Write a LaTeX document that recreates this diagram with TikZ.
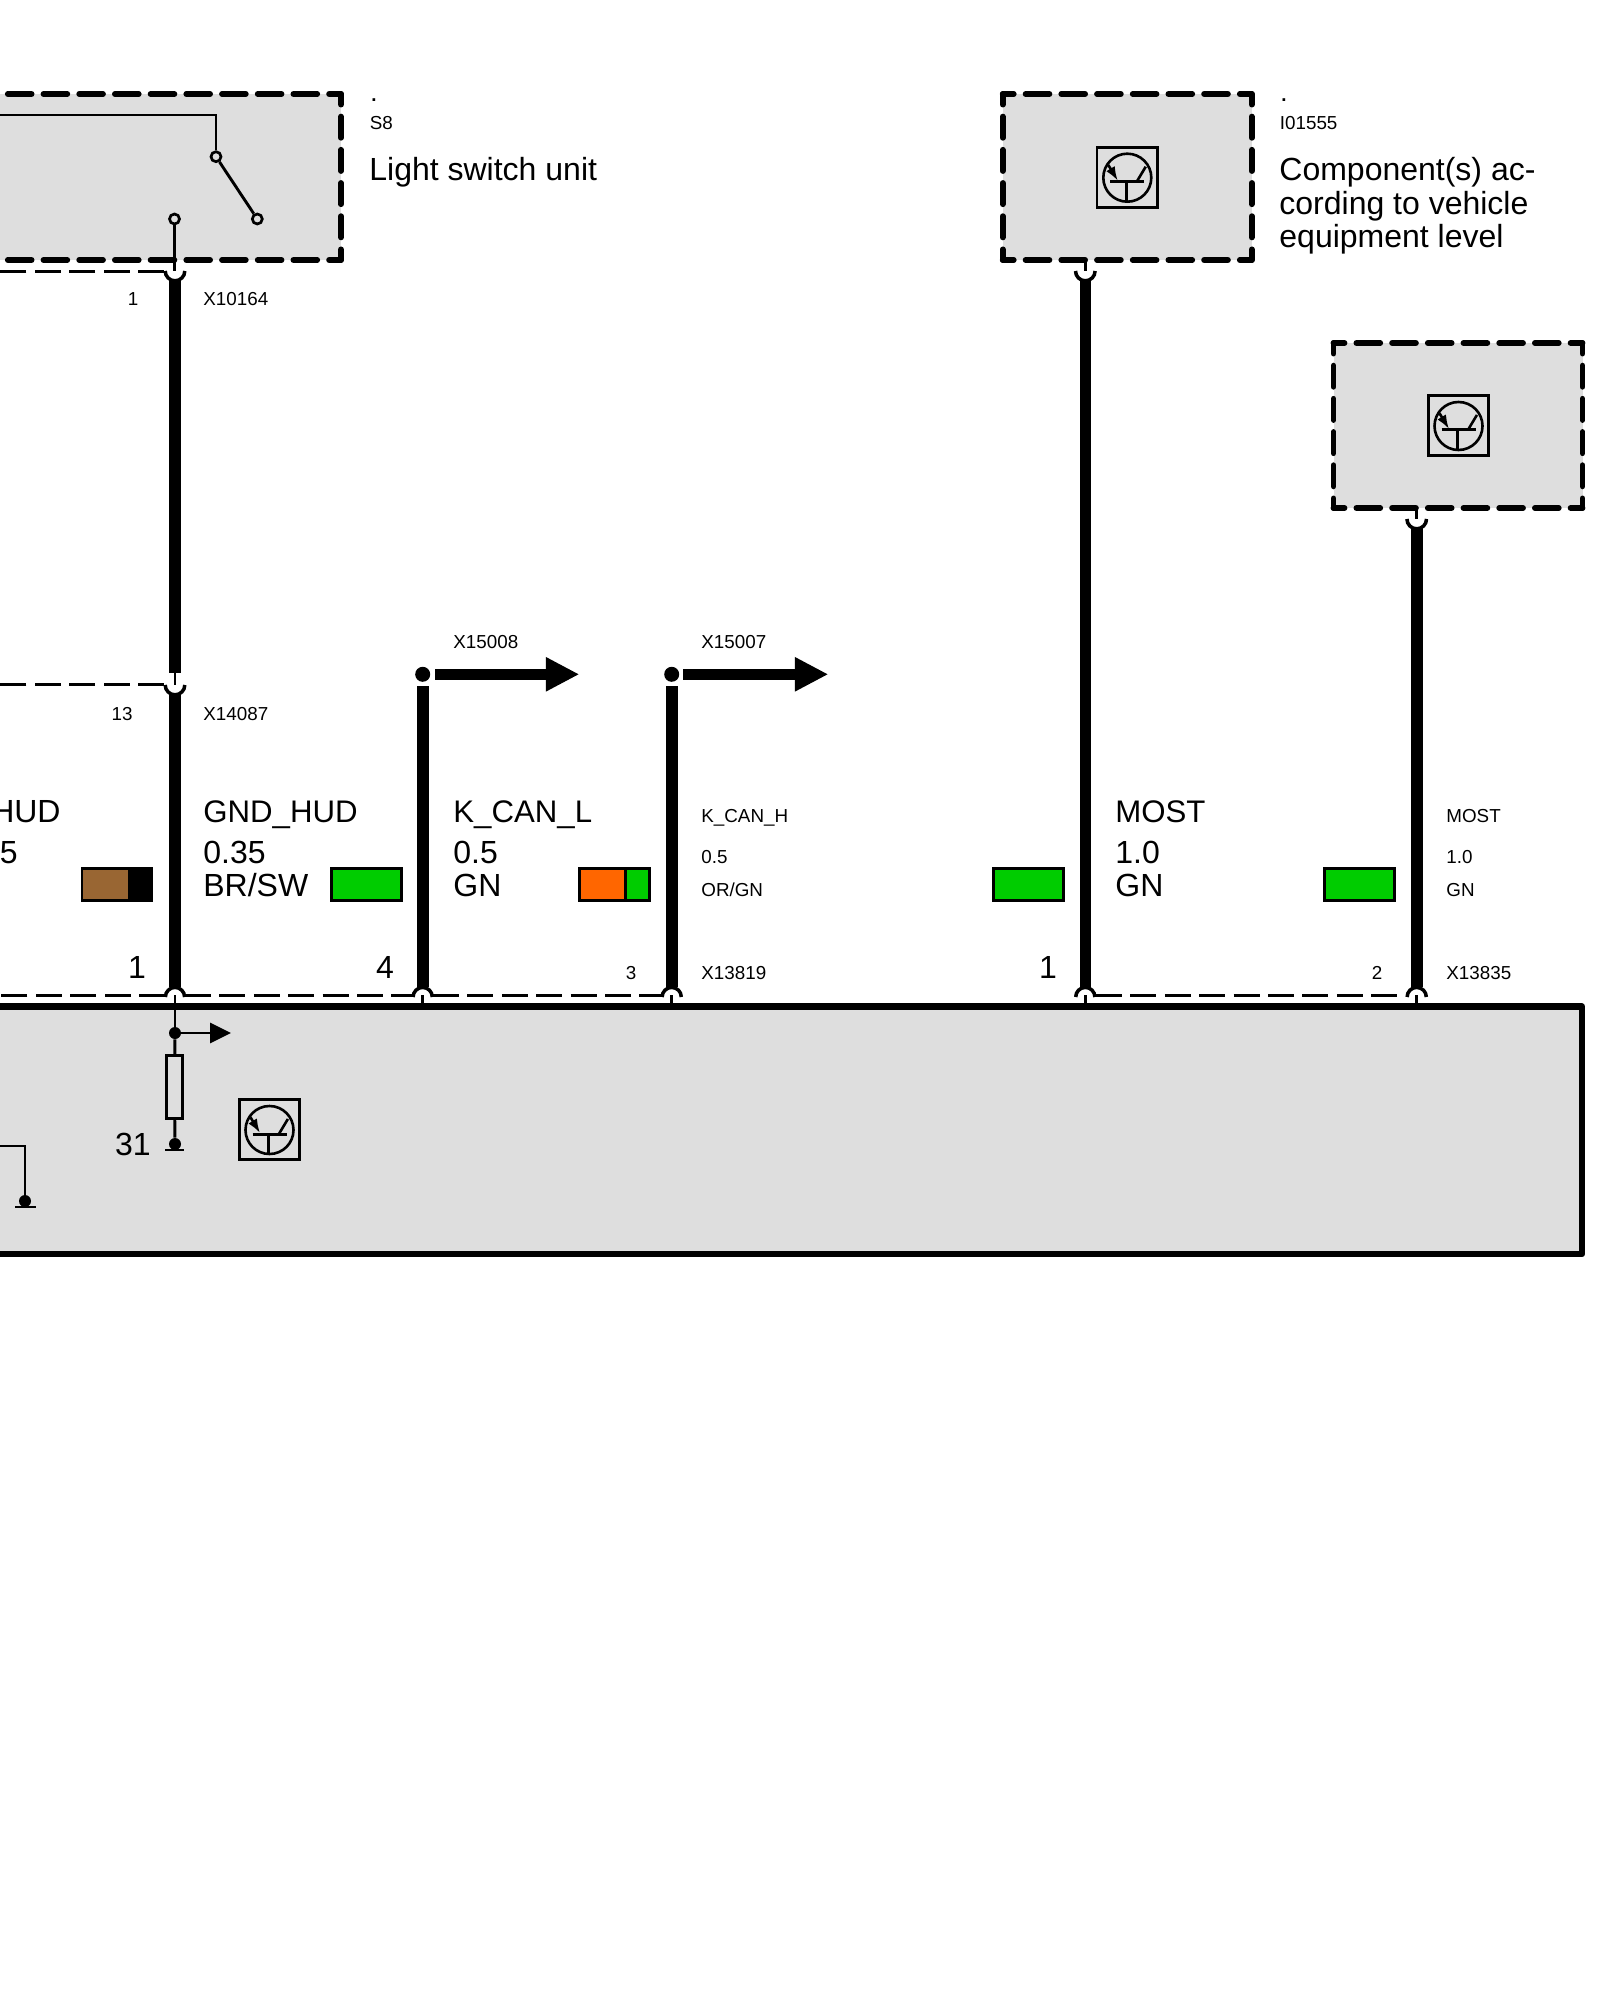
\documentclass[tikz,border=0pt]{standalone}
\usepackage{fontspec}
\setmainfont{Liberation Sans}
\usepackage{tikz}
\usetikzlibrary{calc,positioning,arrows.meta}
\definecolor{boxgray}{HTML}{DEDEDE}
\definecolor{wiregreen}{HTML}{00CC00}
\definecolor{wirebrown}{HTML}{996633}
\definecolor{wireorange}{HTML}{FF6600}
\tikzset{
	bigtext/.style={anchor=base west, inner sep=0pt, font=\fontsize{16}{16}\selectfont},
	sigtext/.style={anchor=base west, inner sep=0pt, font=\fontsize{15.6}{16}\selectfont},
	smalltext/.style={anchor=base west, inner sep=0pt, font=\fontsize{9.4}{9.4}\selectfont},
	wire/.style={line width=5.8pt},
	thinline/.style={line width=1.45pt},
	busdash/.style={line width=1.5pt, dash pattern=on 13pt off 4.2pt},
	hdash/.style={line width=2.9pt, line cap=round, dash pattern=on 11.9pt off 5.95pt, dash phase=5.95pt},
	vdash/.style={line width=2.9pt, line cap=round, dash pattern=on 10.6pt off 6pt, dash phase=5.3pt},
	cupline/.style={line width=1.75pt},
	jdot/.style={circle, fill=black, inner sep=0pt, minimum size=6pt},
	contact/.style={circle, draw, fill=boxgray, line width=1.35pt, inner sep=0pt, minimum size=5pt},
	swatch/.style={draw, line width=1.4pt, inner sep=0pt, minimum width=34.85pt, minimum height=16pt},
	transistor/.pic={
		\draw[line width=1.45pt] (-30.3,-30.4) rectangle (30.3,29.6);
		\draw[line width=1.3pt] (0,0) circle (12pt);
		\draw[line width=1.5pt] (-17,4)--(17,4);
		\draw[line width=1.3pt] (-1,4)--(-1,24);
		\draw[line width=1.3pt] (9.4,4)--(18.4,-11);
		\draw[line width=1.3pt, -{Latex[length=7pt,width=5pt]}] (-19,-12.7)--(-9.5,3);
	}
}
\begin{document}
\begin{tikzpicture}[x=0.5pt,y=-0.5pt]
\useasboundingbox (0,0) rectangle (1600,2000);
\clip (0,0) rectangle (1600,2000);
% dashed component boxes
\foreach \nm/\xa/\ya/\xb/\yb in {sw/-87.4/94/341/260, ih/1002.7/94/1251.7/260, ih2/1333.5/343/1582.5/508}{
	\fill[boxgray] (\xa,\ya) rectangle (\xb,\yb);
	\coordinate (\nm nw) at (\xa,\ya);
	\coordinate (\nm ne) at (\xb,\ya);
	\coordinate (\nm sw) at (\xa,\yb);
	\coordinate (\nm se) at (\xb,\yb);
	\draw[hdash] (\nm ne)--(\nm nw);
	\draw[hdash] (\nm se)--(\nm sw);
	\draw[vdash] (\nm ne)--(\nm se);
	\draw[vdash] (\nm nw)--(\nm sw);
}
% control unit
\draw[line width=3.2pt, line join=round, fill=boxgray] (-20,1006.5) rectangle (1582,1254);
% wires with sockets
\foreach \nm/\wx/\ya/\yb in {a/175/279/673, b/175/693/987, m/1085.3/279/987, n/1416.7/527/987, c/422.7/686/987, d/671.7/686/987}{
	\coordinate (\nm top) at (\wx,\ya);
	\coordinate (\nm bot) at (\wx,\yb);
	\draw[wire] (\nm top)--(\nm bot);
}
% sockets at the bottom
\foreach \nm/\wx in {b/175, c/422.7, d/671.7, m/1085.3, n/1416.7}{
	\coordinate (\nm arc) at (\wx-9.6,997);
	\draw[cupline] (\nm arc) arc[start angle=180, end angle=0, radius=4.8pt];
	\coordinate (\nm pin) at (\wx,995);
	\coordinate (\nm pinb) at (\wx,1006);
	\draw[thinline] (\nm pin)--(\nm pinb);
}
% sockets at the top
\foreach \nm/\wx/\yc/\ys/\ye in {a/175/271/260/271, b/175/685/673/685, m/1085.3/271/260/271, n/1416.7/519/508/519}{
	\coordinate (\nm cup) at (\wx-9.8,\yc);
	\draw[cupline] (\nm cup) arc[start angle=180, end angle=360, radius=4.9pt];
	\coordinate (\nm stuba) at (\wx,\ys);
	\coordinate (\nm stubb) at (\wx,\ye);
	\draw[thinline] (\nm stuba)--(\nm stubb);
}
% dashed connector outlines
\foreach \nm/\xa/\xb/\yd in {da/164/0/272, db/164/0/684, dc/165/0/995, dd/185/412/995, de/433/661/995, df/1096/1406/995}{
	\coordinate (\nm s) at (\xa,\yd);
	\coordinate (\nm e) at (\xb,\yd);
	\draw[busdash] (\nm s)--(\nm e);
}
% arrows out of K-CAN
\foreach \nm/\wx/\sx/\tx in {c/422.7/435/579.3, d/671.7/683.3/828.3}{
	\node[jdot, minimum size=7.5pt] (\nm dot) at (\wx,674.3) {};
	\coordinate (\nm shaft) at (\sx,674.3);
	\coordinate (\nm tip) at (\tx,674.3);
	\draw[wire, -{Triangle[length=16.7pt,width=16pt]}] (\nm shaft)--(\nm tip);
}
% switch
\node[contact] (conA) at (216,156.7) {};
\node[contact] (conB) at (257.3,219) {};
\node[contact] (conC) at (174.5,219) {};
\coordinate (swin) at (0,115);
\coordinate (swcor) at (216,115);
\coordinate (swpin) at (174.5,271);
\draw[thinline] (swin)--(swcor)--(conA);
\draw[thinline] (conA)--(conB);
\draw[thinline] (conC)--(swpin);
% inside the control unit
\node[jdot] (jctA) at (175,1033) {};
\node[draw, line width=1.35pt, fill=boxgray, inner sep=0pt, minimum width=7.8pt, minimum height=31.7pt] (res) at (174.5,1087) {};
\node[jdot] (gndA) at (175,1144) {};
\coordinate (gndAa) at (165,1150);
\coordinate (gndAb) at (184,1150);
\coordinate (outA) at (231,1033);
\draw[thinline] (bpinb)--(jctA);
\draw[thinline] (jctA)--(res);
\draw[thinline] (res)--(gndA);
\draw[thinline] (gndAa)--(gndAb);
\draw[thinline, -{Triangle[length=10.5pt,width=10pt]}] (jctA)--(outA);
\node[jdot] (gndB) at (25,1201) {};
\coordinate (gndBin) at (0,1146);
\coordinate (gndBcor) at (25,1146);
\coordinate (gndBa) at (15,1207);
\coordinate (gndBb) at (36,1207);
\draw[thinline] (gndBin)--(gndBcor)--(gndB);
\draw[thinline] (gndBa)--(gndBb);
\pic at (269.5,1130) {transistor};
\pic at (1127.3,177.7) {transistor};
\pic at (1458.5,426) {transistor};
% colour swatches
\foreach \nm/\sx/\col in {swG/366.5/wiregreen, swM/1028.7/wiregreen, swN/1359.5/wiregreen}{
	\node[swatch, fill=\col] (\nm) at (\sx,884.3) {};
}
\node[swatch, fill=wirebrown] (swBR) at (116.8,884.3) {};
\fill (128,868.3) rectangle (151.6,900.3);
\node[swatch, fill=wireorange] (swOR) at (614.3,884.3) {};
\fill[wiregreen] (625.7,869.8) rectangle (647.7,898.8);
\draw[line width=1.4pt] (625.7,868.3)--(625.7,900.3);
% labels
\node[smalltext] (dotS) at (371,102) {\textbf{.}};
\node[smalltext] (lblS) at (369.5,129.5) {S8};
\node[bigtext] (lblSw) at (369,181) {Light switch unit};
\node[smalltext] (dotI) at (1281,102) {\textbf{.}};
\node[smalltext] (lblI) at (1279.5,129.5) {I01555};
\node[bigtext] (lblIa) at (1279,181) {Component(s) ac-};
\node[bigtext] (lblIb) at (1279,215) {cording to vehicle};
\node[bigtext] (lblIc) at (1279,248) {equipment level};
\node[smalltext, anchor=base] (pinA) at (133,306) {1};
\node[smalltext] (xA) at (203,306) {X10164};
\node[smalltext, anchor=base] (pinB) at (122,720) {13};
\node[smalltext] (xB) at (203,720) {X14087};
\node[smalltext] (xC) at (453,648) {X15008};
\node[smalltext] (xD) at (701,648) {X15007};
\node[bigtext, anchor=base east] (hudA) at (61,822) {HUD};
\node[bigtext, anchor=base east] (hudB) at (18,863) {5};
\node[sigtext] (sigB) at (203,822) {GND\_HUD};
\node[bigtext] (csaB) at (203,863) {0.35};
\node[bigtext] (colB) at (203,896) {BR/SW};
\node[sigtext] (sigC) at (453,822) {K\_CAN\_L};
\node[bigtext] (csaC) at (453,863) {0.5};
\node[bigtext] (colC) at (453,896) {GN};
\node[smalltext] (sigD) at (701,822) {K\_CAN\_H};
\node[smalltext] (csaD) at (701,863) {0.5};
\node[smalltext] (colD) at (701,896) {OR/GN};
\node[sigtext] (sigM) at (1115,822) {MOST};
\node[bigtext] (csaM) at (1115,863) {1.0};
\node[bigtext] (colM) at (1115,896) {GN};
\node[smalltext] (sigN) at (1446,822) {MOST};
\node[smalltext] (csaN) at (1446,863) {1.0};
\node[smalltext] (colN) at (1446,896) {GN};
\node[bigtext, anchor=base] (pinBb) at (137,978) {1};
\node[bigtext, anchor=base] (pinC) at (385,978) {4};
\node[smalltext, anchor=base] (pinD) at (631,979) {3};
\node[smalltext] (xE) at (701,979) {X13819};
\node[bigtext, anchor=base] (pinM) at (1048,978) {1};
\node[smalltext, anchor=base] (pinN) at (1377,979) {2};
\node[smalltext] (xF) at (1446,979) {X13835};
\node[bigtext, anchor=base] (gndLbl) at (133,1155) {31};
\end{tikzpicture}
\end{document}
